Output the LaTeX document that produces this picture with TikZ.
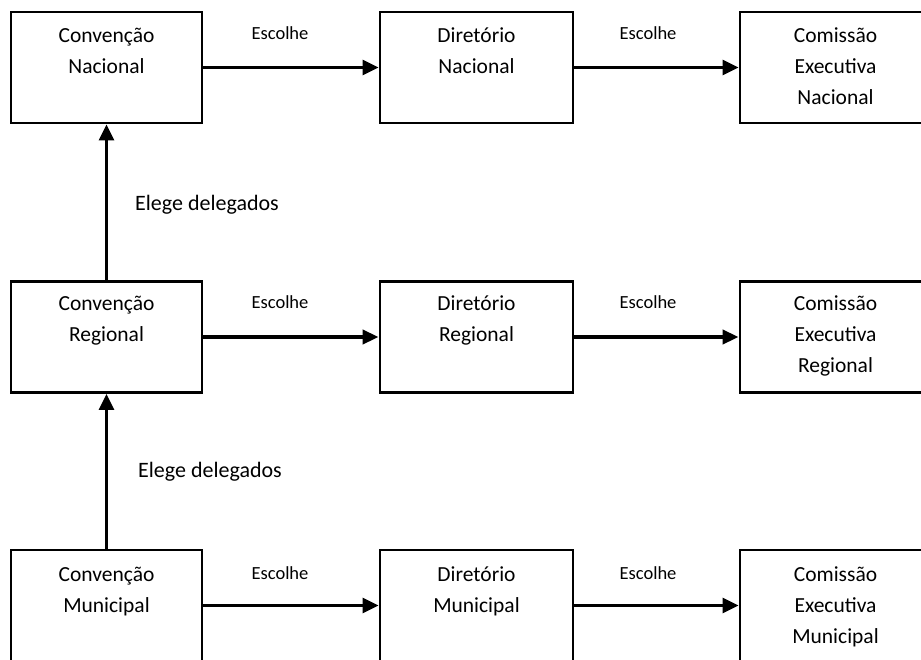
\documentclass[tikz,border=0pt]{standalone}
\usepackage{fontspec}
\setmainfont{Carlito}
\usetikzlibrary{arrows.meta}
\begin{document}
\begin{tikzpicture}[x=1pt,y=-1pt,
  box/.style={draw=black,line width=2.8pt,minimum width=191pt,minimum height=111pt,inner sep=0pt},
  boxtxt/.style={align=center,font=\fontsize{21.5}{31}\selectfont,anchor=base,inner sep=0pt},
  arr/.style={line width=2.7pt,-{Triangle[length=16pt,width=15pt]}},
  thickarr/.style={line width=3.9pt,-{Triangle[length=16pt,width=14pt]}},
  esc/.style={font=\fontsize{18.5}{22}\selectfont,inner sep=0pt},
  elege/.style={font=\fontsize{22}{26}\selectfont,anchor=west,inner sep=0pt}]
\clip (0,0) rectangle (921,659);
\fill[white] (0,0) rectangle (921,659);
% top row
\node[box] (CN) at (106.5,67.5) {};
\node[box,minimum width=193pt] (DN) at (476.5,67.5) {};
\node[box] (EN) at (835.5,67.5) {};
% middle row
\node[box] (CR) at (106.5,337) {};
\node[box,minimum width=193pt] (DR) at (476.5,337) {};
\node[box] (ER) at (835.5,337) {};
% bottom row
\node[box] (CM) at (106.5,605.5) {};
\node[box,minimum width=193pt] (DM) at (476.5,605.5) {};
\node[box] (EM) at (835.5,605.5) {};
% texts (anchored at the baseline of their last line)
\node[boxtxt] (tCN) at (106.5,73) {Convenção\\Nacional};
\node[boxtxt] (tDN) at (476.5,73) {Diretório\\Nacional};
\node[boxtxt] (tEN) at (835.5,104) {Comissão\\Executiva\\Nacional};
\node[boxtxt] (tCR) at (106.5,341) {Convenção\\Regional};
\node[boxtxt] (tDR) at (476.5,341) {Diretório\\Regional};
\node[boxtxt] (tER) at (835.5,372) {Comissão\\Executiva\\Regional};
\node[boxtxt] (tCM) at (106.5,612) {Convenção\\Municipal};
\node[boxtxt] (tDM) at (476.5,612) {Diretório\\Municipal};
\node[boxtxt] (tEM) at (835.5,643) {Comissão\\Executiva\\Municipal};
% horizontal arrows
\draw[arr] (CN) -- (DN);
\draw[arr] (DN) -- (EN);
\draw[thickarr] (CR) -- (DR);
\draw[thickarr] (DR) -- (ER);
\draw[arr] (CM) -- (DM);
\draw[arr] (DM) -- (EM);
% vertical arrows
\draw[arr] (CR) -- (CN);
\draw[arr] (CM) -- (CR);
% labels
\node[esc] (e1) at (280,33) {Escolhe};
\node[esc] (e2) at (648,33) {Escolhe};
\node[esc] (e3) at (280,302) {Escolhe};
\node[esc] (e4) at (648,302) {Escolhe};
\node[esc] (e5) at (280,573) {Escolhe};
\node[esc] (e6) at (648,573) {Escolhe};
\node[elege] (l1) at (135,205) {Elege delegados};
\node[elege] (l2) at (138,472) {Elege delegados};
\end{tikzpicture}
\end{document}
